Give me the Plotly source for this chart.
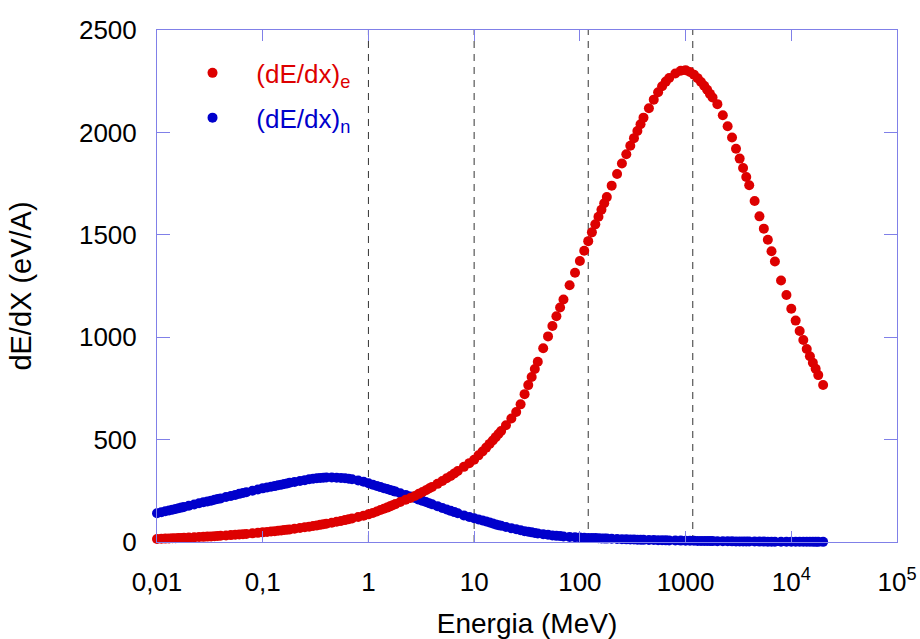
import plotly.graph_objects as go

# Energy grid (MeV)
energia = [
    0.01, 0.011, 0.012, 0.013, 0.014, 0.015, 0.016, 0.017, 0.018, 0.02, 0.0225, 0.025, 0.0275,
    0.03, 0.0325, 0.035, 0.0375, 0.04, 0.045, 0.05, 0.055, 0.06, 0.065, 0.07, 0.08, 0.09,
    0.1, 0.11, 0.12, 0.13, 0.14, 0.15, 0.16, 0.17, 0.18, 0.2, 0.225, 0.25, 0.275,
    0.3, 0.325, 0.35, 0.375, 0.4, 0.45, 0.5, 0.55, 0.6, 0.65, 0.7, 0.8, 0.9,
    1, 1.1, 1.2, 1.3, 1.4, 1.5, 1.6, 1.7, 1.8, 2, 2.25, 2.5, 2.75,
    3, 3.25, 3.5, 3.75, 4, 4.5, 5, 5.5, 6, 6.5, 7, 8, 9,
    10, 11, 12, 13, 14, 15, 16, 17, 18, 20, 22.5, 25, 27.5,
    30, 32.5, 35, 37.5, 40, 45, 50, 55, 60, 65, 70, 80, 90,
    100, 110, 120, 130, 140, 150, 160, 170, 180, 200, 225, 250, 275,
    300, 325, 350, 375, 400, 450, 500, 550, 600, 650, 700, 800, 900,
    1000, 1100, 1200, 1300, 1400, 1500, 1600, 1700, 1800, 2000, 2250, 2500, 2750,
    3000, 3250, 3500, 3750, 4000, 4500, 5000, 5500, 6000, 6500, 7000, 8000, 9000,
    10000, 11000, 12000, 13000, 14000, 15000, 16000, 17000, 18000, 20000,
]

# Electronic stopping (eV/A)
dedx_e = [
    15, 15.8, 16.5, 17.2, 17.9, 18.5, 19.1, 19.7, 20.3, 21.4, 22.7, 24.0, 25.1,
    26.3, 27.3, 28.3, 29.3, 30.3, 32.0, 33.7, 35.3, 36.8, 38.3, 39.6, 42.3, 44.7,
    47, 49.1, 51.1, 53.1, 54.9, 56.7, 58.4, 60.0, 61.6, 64.7, 68.3, 71.7, 74.9,
    78.0, 80.9, 83.7, 86.3, 89.0, 93.8, 98.5, 102.8, 106.9, 111.0, 114.8, 122.0, 128.7,
    135, 142, 149, 156, 162, 168, 174, 180, 185, 195, 206, 215, 225,
    235, 244, 253, 261, 269, 284, 298, 311, 322, 335, 347, 367, 385,
    402, 423, 442, 461, 479, 496, 512, 527, 542, 570, 603, 635, 672,
    722, 766, 806, 845, 880, 946, 1004, 1055, 1102, 1145, 1184, 1254, 1315,
    1372, 1422, 1469, 1512, 1551, 1588, 1622, 1654, 1684, 1740, 1797, 1848, 1893,
    1935, 1972, 2007, 2040, 2072, 2118, 2160, 2196, 2225, 2248, 2266, 2288, 2301,
    2304, 2295, 2282, 2265, 2246, 2228, 2208, 2188, 2170, 2138, 2084, 2030, 1975,
    1920, 1872, 1826, 1782, 1742, 1665, 1590, 1530, 1476, 1420, 1370, 1277, 1206,
    1139, 1081, 1030, 986, 942, 907, 875, 846, 815, 767,
]

# Nuclear stopping (eV/A)
dedx_n = [
    140, 145, 150, 154, 158, 161, 165, 168, 171, 177, 183, 189, 194,
    198, 202, 206, 210, 213, 220, 225, 230, 235, 239, 243, 250, 256,
    262, 266, 270, 273, 277, 280, 283, 286, 289, 293, 298, 302, 306,
    309, 311, 313, 314, 315, 315, 314, 313, 311, 309, 306, 300, 294,
    287, 280, 274, 268, 263, 259, 254, 250, 246, 238, 230, 222, 215,
    207, 201, 195, 189, 184, 175, 166, 159, 152, 146, 140, 130, 122,
    116, 110, 105, 100, 95, 90, 86, 82, 79, 73, 67, 62, 57,
    53, 50, 47, 44, 42, 38, 35, 32, 30, 29, 27, 25, 23,
    22, 21, 20, 19.5, 19, 18, 17.5, 17, 16.5, 15.5, 14.5, 13.5, 13,
    12.5, 12, 11.5, 11, 10.5, 10, 9.5, 9, 8.5, 8, 7.8, 7.2, 6.8,
    6.3, 6, 5.7, 5.4, 5.1, 4.9, 4.7, 4.5, 4.3, 4, 3.7, 3.4, 3.2,
    3, 2.8, 2.7, 2.5, 2.4, 2.2, 2, 1.9, 1.8, 1.7, 1.6, 1.4, 1.3,
    1.2, 1.1, 1.05, 1.0, 0.95, 0.9, 0.85, 0.8, 0.78, 0.72,
]

x_tickvals = [0.01, 0.1, 1, 10, 100, 1000, 10000, 100000]
x_ticktext = ["0,01", "0,1", "1", "10", "100", "1000", "10<sup>4</sup>", "10<sup>5</sup>"]
y_tickvals = [0, 500, 1000, 1500, 2000, 2500]

vline_energies = [1, 10, 120, 1170]

RED = "#dd0000"
BLUE = "#0000cc"
FRAME = "#8080e8"
FONT = "Liberation Sans, Arial, sans-serif"
PAD = "\u00a0" * 3 + "\u200a"

fig = go.Figure()
fig.add_trace(go.Scatter(
    x=energia, y=dedx_n, mode="markers",
    marker=dict(color=BLUE, size=10, line=dict(width=0)),
    name=PAD + f'<span style="color:{BLUE}">(dE/dx)<sub>n</sub></span>',
    cliponaxis=False, legendrank=2, legendgroup="n",
))
fig.add_trace(go.Scatter(
    x=energia, y=dedx_e, mode="markers",
    marker=dict(color=RED, size=10, line=dict(width=0)),
    name=PAD + f'<span style="color:{RED}">(dE/dx)<sub>e</sub></span>',
    cliponaxis=False, legendrank=1, legendgroup="e",
))

for e in vline_energies:
    fig.add_shape(type="line", xref="x", yref="paper", x0=e, x1=e, y0=0, y1=1,
                  line=dict(color="#333333", width=1, dash="7px,6px"), layer="below")

fig.update_layout(
    width=920, height=639,
    margin=dict(l=157, r=23, t=30, b=97, autoexpand=False),
    paper_bgcolor="white", plot_bgcolor="white",
    font=dict(family=FONT, size=26, color="black"),
    showlegend=True,
    legend=dict(x=0.048, y=0.962, xanchor="left", yanchor="top",
                bgcolor="rgba(0,0,0,0)", font=dict(size=26), tracegroupgap=8),
    xaxis=dict(
        type="log", range=[-2, 5], automargin=False,
        tickvals=x_tickvals, ticktext=x_ticktext,
        ticks="inside", ticklen=11, tickcolor=FRAME, tickwidth=1,
        showline=True, linecolor=FRAME, linewidth=1, mirror="ticks",
        showgrid=False, zeroline=False,
        ticklabelstandoff=17,
        title=dict(text="Energia (MeV)", font=dict(size=28), standoff=19),
    ),
    yaxis=dict(
        range=[0, 2500], tickvals=y_tickvals, automargin=False,
        ticks="inside", ticklen=13, tickcolor=FRAME, tickwidth=1,
        showline=True, linecolor=FRAME, linewidth=1, mirror="ticks",
        showgrid=False, zeroline=False,
        ticklabelstandoff=14,
        title=dict(text="dE/dX (eV/A)", font=dict(size=29), standoff=38),
    ),
)

fig.write_html("out.html")
